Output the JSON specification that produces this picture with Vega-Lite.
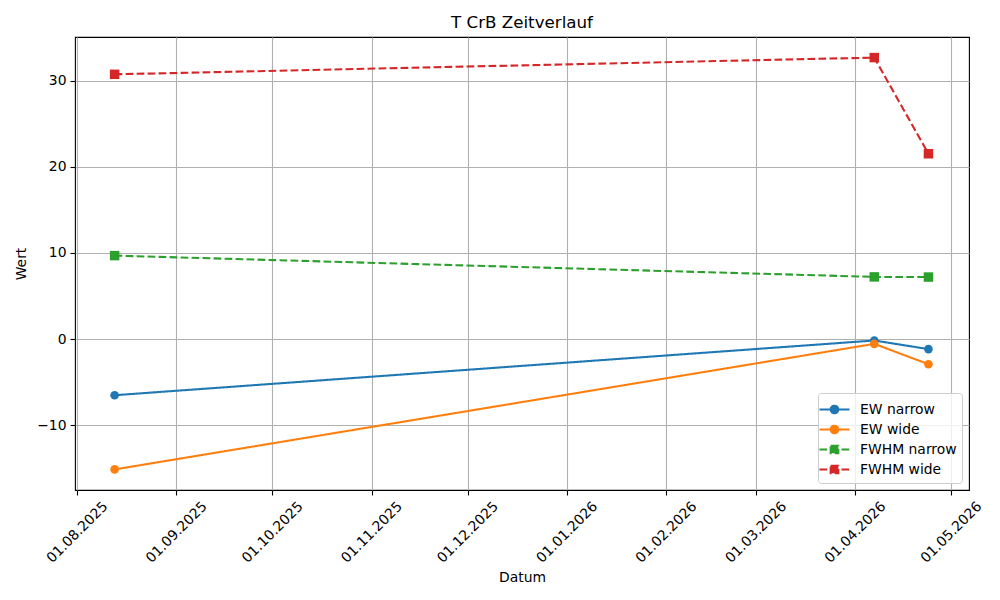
{
  "$schema": "https://vega.github.io/schema/vega-lite/v6.json",
  "width": 894,
  "height": 453,
  "autosize": {"type": "none"},
  "padding": {"left": 75, "top": 37, "right": 31, "bottom": 110},
  "background": "white",
  "title": {"text": "T CrB Zeitverlauf", "font": "DejaVu Sans", "fontSize": 16.7, "fontWeight": "normal", "color": "black", "offset": 5},
  "config": {
    "view": {"stroke": "black", "strokeWidth": 1.1},
    "font": "DejaVu Sans",
    "axis": {
      "labelFont": "DejaVu Sans", "labelFontSize": 13.9, "labelColor": "black",
      "titleFont": "DejaVu Sans", "titleFontSize": 13.9, "titleColor": "black", "titleFontWeight": "normal",
      "domain": false, "tickColor": "black", "tickSize": 5, "tickWidth": 1.1,
      "grid": true, "gridColor": "#b0b0b0", "gridWidth": 1.1
    }
  },
  "data": {"values": [
    {"date": "2025-08-12T18:00:00", "series": "EW narrow", "marker": "circle", "value": -6.51},
    {"date": "2026-04-07T00:00:00", "series": "EW narrow", "marker": "circle", "value": -0.16},
    {"date": "2026-04-23T22:00:00", "series": "EW narrow", "marker": "circle", "value": -1.16},
    {"date": "2025-08-12T18:00:00", "series": "EW wide", "marker": "circle", "value": -15.12},
    {"date": "2026-04-07T00:00:00", "series": "EW wide", "marker": "circle", "value": -0.55},
    {"date": "2026-04-23T22:00:00", "series": "EW wide", "marker": "circle", "value": -2.91},
    {"date": "2025-08-12T18:00:00", "series": "FWHM narrow", "marker": "square", "value": 9.69},
    {"date": "2026-04-07T00:00:00", "series": "FWHM narrow", "marker": "square", "value": 7.22},
    {"date": "2026-04-23T22:00:00", "series": "FWHM narrow", "marker": "square", "value": 7.2},
    {"date": "2025-08-12T18:00:00", "series": "FWHM wide", "marker": "square", "value": 30.73},
    {"date": "2026-04-07T00:00:00", "series": "FWHM wide", "marker": "square", "value": 32.67},
    {"date": "2026-04-23T22:00:00", "series": "FWHM wide", "marker": "square", "value": 21.51}
  ]},
  "encoding": {
    "x": {
      "field": "date", "type": "temporal", "title": "Datum",
      "scale": {"domain": ["2025-07-31T09:00:00", "2026-05-06T14:00:00"], "nice": false},
      "axis": {
        "values": [
          {"year": 2025, "month": 8, "date": 1}, {"year": 2025, "month": 9, "date": 1},
          {"year": 2025, "month": 10, "date": 1}, {"year": 2025, "month": 11, "date": 1},
          {"year": 2025, "month": 12, "date": 1}, {"year": 2026, "month": 1, "date": 1},
          {"year": 2026, "month": 2, "date": 1}, {"year": 2026, "month": 3, "date": 1},
          {"year": 2026, "month": 4, "date": 1}, {"year": 2026, "month": 5, "date": 1}
        ],
        "format": "%d.%m.%Y", "labelAngle": -45, "labelAlign": "center", "labelBaseline": "middle",
        "labelPadding": 37, "labelOverlap": false, "labelFlush": false,
        "titleY": 87, "titleBaseline": "middle"
      }
    },
    "y": {
      "field": "value", "type": "quantitative", "title": "Wert",
      "scale": {"domain": [-17.51, 35.06], "nice": false, "zero": false},
      "axis": {
        "values": [-10, 0, 10, 20, 30],
        "labelExpr": "replace(datum.label, '-', '−')",
        "labelPadding": 4,
        "titleX": -54, "titleY": 226.5, "titleBaseline": "middle", "titleAlign": "center"
      }
    },
    "color": {
      "field": "series", "type": "nominal",
      "scale": {"domain": ["EW narrow", "EW wide", "FWHM narrow", "FWHM wide"], "range": ["#1f77b4", "#ff7f0e", "#2ca02c", "#d62728"]},
      "legend": {
        "title": null, "orient": "bottom-right", "offset": 7,
        "labelFont": "DejaVu Sans", "labelFontSize": 13.9, "labelColor": "black",
        "padding": 5, "rowPadding": -0.5, "symbolSize": 400, "labelOffset": 14,
        "symbolStrokeWidth": 2.08,
        "fillColor": "rgba(255,255,255,0.8)", "strokeColor": "#cccccc", "cornerRadius": 3,
        "encode": {
          "symbols": {"update": {
            "shape": {"signal": "indexof(datum.value, 'EW') === 0 ? 'M-1.5,0H1.5M-0.38,0A0.38,0.38,0,1,0,0.38,0A0.38,0.38,0,1,0,-0.38,0Z' : 'M-1.5,0H-0.73M-0.4,0H0.37M0.7,0H1.47M-0.38,-0.38H0.38V0.38H-0.38Z'"},
            "fill": {"scale": "color", "field": "value"},
            "stroke": {"scale": "color", "field": "value"},
            "fillOpacity": {"value": 1},
            "strokeOpacity": {"value": 1}
          }}
        }
      }
    }
  },
  "layer": [
    {
      "mark": {"type": "line", "strokeWidth": 2.08},
      "encoding": {
        "strokeDash": {
          "field": "series", "type": "nominal",
          "scale": {"domain": ["EW narrow", "EW wide", "FWHM narrow", "FWHM wide"], "range": [[1, 0], [1, 0], [7.7, 3.3], [7.7, 3.3]]},
          "legend": null
        }
      }
    },
    {
      "mark": {"type": "point", "filled": true, "opacity": 1, "strokeWidth": 0},
      "encoding": {
        "shape": {"field": "marker", "type": "nominal", "scale": null, "legend": null},
        "size": {"field": "marker", "type": "nominal", "scale": {"domain": ["circle", "square"], "range": [74, 90]}, "legend": null}
      }
    }
  ]
}
